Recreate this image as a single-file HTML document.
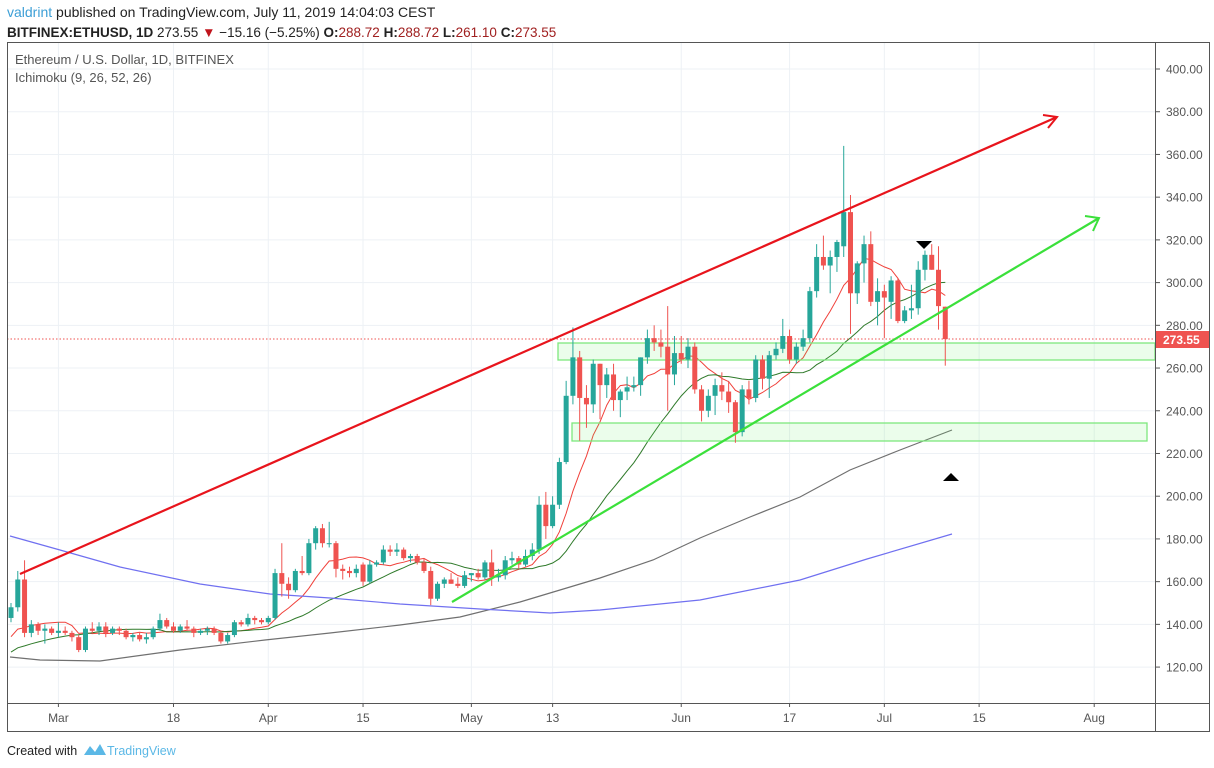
<!DOCTYPE html>
<html><head><meta charset="utf-8">
<style>
html,body{margin:0;padding:0;background:#fff;}
body{width:1214px;height:768px;overflow:hidden;font-family:"Liberation Sans",sans-serif;}
svg{display:block}
</style></head>
<body>
<svg id="s" width="1214" height="768" xmlns="http://www.w3.org/2000/svg" font-family="Liberation Sans, sans-serif">
<rect width="1214" height="768" fill="#fff"/>
<text x="7" y="17" font-size="14" fill="#222"><tspan fill="#3d9fd6">valdrint</tspan> published on TradingView.com, July 11, 2019 14:04:03 CEST</text>
<text x="7" y="37" font-size="13.5" fill="#222"><tspan font-weight="bold">BITFINEX:ETHUSD, 1D</tspan>  273.55 <tspan fill="#c0141c">▼</tspan> −15.16 (−5.25%) <tspan font-weight="bold">O:</tspan><tspan fill="#a02020">288.72</tspan> <tspan font-weight="bold">H:</tspan><tspan fill="#a02020">288.72</tspan> <tspan font-weight="bold">L:</tspan><tspan fill="#a02020">261.10</tspan> <tspan font-weight="bold">C:</tspan><tspan fill="#a02020">273.55</tspan></text>
<g id="grid"></g>
<g id="ov"></g>
<g id="c"></g>
<g id="top"></g>
<rect x="7.5" y="42.5" width="1202" height="689" fill="none" stroke="#555" stroke-width="1"/>
<line x1="7" y1="703.5" x2="1209" y2="703.5" stroke="#555"/>
<line x1="1155.5" y1="42" x2="1155.5" y2="731" stroke="#555"/>
<text x="15" y="64" font-size="13" fill="#555">Ethereum / U.S. Dollar, 1D, BITFINEX</text>
<text x="15" y="82" font-size="13" fill="#555">Ichimoku (9, 26, 52, 26)</text>
<text x="7" y="755" font-size="12.5" fill="#222">Created with</text>
<path d="M84 755 L90 746 L95 752 L100 744 L106 755 Z" fill="#5bb8e6"/>
<text x="107" y="755" font-size="12.5" fill="#5bb8e6">TradingView</text>
</svg>
<script>
const NS="http://www.w3.org/2000/svg";
function el(p,t,a,txt){const e=document.createElementNS(NS,t);for(const k in a)e.setAttribute(k,a[k]);if(txt!=null)e.textContent=txt;document.getElementById(p).appendChild(e);return e;}
const Y=p=>69+(400-p)*2.136;
const X=d=>58.4+6.77*d;
// grid
const xl=[["Mar",0],["18",17],["Apr",31],["15",45],["May",61],["13",73],["Jun",92],["17",108],["Jul",122],["15",136],["Aug",153]];
for(let p=120;p<=400;p+=20){const y=Y(p);el("grid","line",{x1:7,x2:1155,y1:y,y2:y,stroke:"#edf1f5"});
 el("grid","line",{x1:1155,x2:1160,y1:y,y2:y,stroke:"#555"});
 el("grid","text",{x:1166,y:y+4.5,"font-size":12,fill:"#555"},p.toFixed(2));}
for(const [l,d] of xl){const x=X(d);el("grid","line",{x1:x,x2:x,y1:42,y2:703,stroke:"#edf1f5"});
 el("grid","line",{x1:x,x2:x,y1:703,y2:707,stroke:"#555"});
 el("grid","text",{x:x,y:722,"font-size":12,fill:"#555","text-anchor":"middle"},l);}
const D=[[143,150,141,148],[148,165,146,161],[161,170,134,136],[136,142,134,140],[140,141,135,137],[137,140,131,138],[138,139,135,136],
[136,141,134,137],[137,139,135,136],[136,137,132,134],[134,135,127,128],[128,139,127,138],[138,141,136,137],[137,141,135,139],[139,141,134,136],[136,139,135,138],[138,139,135,137],[137,138,133,134],[134,136,132,135],[135,136,132,133],[133,136,131,134],[134,139,133,138],[138,145,137,142],[142,143,138,139],[139,141,136,137],[137,140,136,139],[139,142,137,138],[138,139,134,136],[136,138,135,137],[137,139,135,138],[138,139,135,136],[136,137,131,132],[132,136,131,135],[135,142,134,141],[141,142,139,140],[140,145,139,143],[143,144,140,142],[142,143,140,141],
[141,144,140,143],[143,166,142,164],[164,178,153,159],[159,162,152,156],[156,166,155,165],[165,172,163,164],[164,180,163,178],[178,186,175,185],[185,187,176,178],[178,188,176,178],[178,179,162,166],[166,168,161,165],[165,167,162,164],[164,168,162,166],[168,169,158,160],[160,170,159,168],[168,170,167,169],[169,177,168,175],[175,177,172,174],[174,178,172,175],[175,176,170,171],[171,173,169,172],[172,173,168,169],[169,171,164,165],[165,167,149,152],[152,160,151,159],[159,162,157,161],[161,164,159,159],[159,162,157,158],[158,165,157,163],
[163,164,160,164],[164,166,161,162],[162,170,161,169],[169,175,158,162],[162,166,160,163],[163,172,161,170],[170,174,168,171],[171,172,166,168],[168,175,167,172],[172,178,170,175],[175,200,173,196],[196,202,180,186],[186,200,185,196],[196,218,194,216],[216,254,215,247],[247,279,243,265],[265,268,226,246],[246,252,232,243],[243,264,239,262],[262,262,236,252],[252,260,246,257],[257,262,240,245],[245,250,237,249],[249,256,245,251],[251,256,249,252],[252,265,247,265],[265,278,262,274],[274,280,268,272],[272,278,265,270],[270,289,240,257],[257,275,252,267],
[267,275,262,264],[264,274,260,270],[270,272,248,250],[250,252,235,240],[240,250,237,247],[247,255,238,252],[252,258,245,249],[249,254,239,244],[244,245,225,230],[230,252,228,250],[250,254,243,246],[246,266,244,264],[264,266,250,255],[255,268,246,266],[266,272,264,269],[269,283,267,275],[275,278,262,264],[264,272,262,270],[270,278,268,274],[274,298,272,296],[296,318,293,312],[312,322,306,308],[308,315,295,312],[312,320,305,319],[317,364,312,333],[333,341,276,295],[295,310,290,309],[309,322,300,318],[318,324,289,291],
[291,302,280,296],[296,299,274,293],[291,303,283,301],[301,302,281,282],[282,289,281,287],[287,299,283,288],[288,310,285,306],[306,315,301,313],[313,318,306,306],[306,317,278,289],[288.72,288.72,261.1,273.55]];
// moving averages
const pre=[];for(let i=0;i<25;i++)pre.push(112+i*1.0);
const cl=pre.concat(D.map(d=>d[3]));
function sma(n){const r=[];for(let i=25;i<cl.length;i++){let s=0;for(let j=i-n+1;j<=i;j++)s+=cl[j];r.push(s/n);}return r;}
function pl(arr,col){let s="";arr.forEach((v,i)=>{s+=(i?"L":"M")+X(i-7).toFixed(1)+" "+Y(v).toFixed(1);});el("ov","path",{d:s,fill:"none",stroke:col,"stroke-width":1});}
pl(sma(9),"#f0403a");pl(sma(22),"#2f7a2a");
const gray=[[10,657],[40,660],[100,661],[180,650],[265,640],[330,633],[400,625],[460,617],[520,602],[560,590],[600,578],[653,560],[700,538],[750,517],[800,497],[850,470],[900,450],[952,430]];
const blue=[[10,536],[60,550],[120,567],[200,584],[270,594],[330,598],[400,604],[480,609],[550,613],[600,610],[700,600],[800,580],[867,559],[952,534]];
el("ov","path",{d:"M"+gray.map(p=>p.join(" ")).join(" L"),fill:"none",stroke:"#707070","stroke-width":1.2});
el("ov","path",{d:"M"+blue.map(p=>p.join(" ")).join(" L"),fill:"none",stroke:"#7070f0","stroke-width":1.2});
// boxes
el("ov","rect",{x:558,y:343,width:597,height:17,fill:"rgba(100,240,100,0.13)",stroke:"#7ee87e","stroke-width":1.3});
el("ov","rect",{x:572,y:423,width:575,height:18,fill:"rgba(100,240,100,0.13)",stroke:"#7ee87e","stroke-width":1.3});
el("ov","line",{x1:7,x2:1155,y1:339,y2:339,stroke:"#ef5350","stroke-dasharray":"1.5 2","stroke-width":1});
// candles
D.forEach((d,i)=>{const x=X(i-7),[o,h,l,c]=d;const up=c>=o;const col=up?"#26a69a":"#ef5350";
 el("c","line",{x1:x,x2:x,y1:Y(h),y2:Y(l),stroke:col,"stroke-width":1});
 const t=Y(Math.max(o,c)),b=Y(Math.min(o,c));el("c","rect",{x:x-2.5,y:t,width:5,height:Math.max(1,b-t),fill:col});});
// trend lines
el("top","line",{x1:20,y1:574,x2:1057,y2:117,stroke:"#e8141c","stroke-width":2.2});
el("top","path",{d:"M1043 115 L1057 117 L1048 128",fill:"none",stroke:"#e8141c","stroke-width":2});
el("top","line",{x1:452,y1:602,x2:1099,y2:218,stroke:"#3be03b","stroke-width":2.2});
el("top","path",{d:"M1085 216 L1099 218 L1093 231",fill:"none",stroke:"#3be03b","stroke-width":2});
el("top","path",{d:"M916 241 L932 241 L924 249 Z",fill:"#000"});
el("top","path",{d:"M943 481 L959 481 L951 473 Z",fill:"#000"});
el("top","rect",{x:1155,y:331,width:54,height:17,fill:"#ef5350"});
el("top","text",{x:1163,y:344,"font-size":12,fill:"#fff","font-weight":"bold"},"273.55");
</script>
</body></html>
